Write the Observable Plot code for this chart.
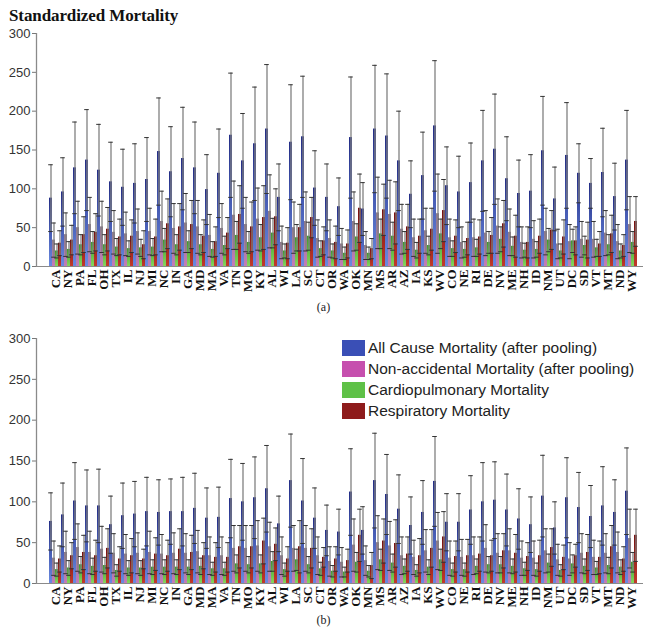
<!DOCTYPE html>
<html>
<head>
<meta charset="utf-8">
<script src="https://cdn.jsdelivr.net/npm/d3@7"></script>
<script src="https://cdn.jsdelivr.net/npm/@observablehq/plot@0.6"></script>
<style>
  body { margin: 0; background: #fff; }
  #wrap { position: relative; width: 647px; height: 627px; overflow: hidden; background: #fff; }
  .abs { position: absolute; }
  #title { left: 9px; top: 6px; font: bold 17px "Liberation Serif", "DejaVu Serif", serif; color: #111; letter-spacing: -0.1px; }
  .cap { left: 0; width: 647px; text-align: center; font: 12px "Liberation Serif", serif; color: #222; }
  #legend { left: 342px; top: 337px; font: 15.5px "Liberation Sans", Arial, sans-serif; color: #222; }
  #legend .row { display: flex; align-items: center; height: 21px; }
  #legend .sw { width: 23px; height: 16px; margin-right: 3px; }
</style>
</head>
<body>
<div id="wrap">
  <div id="pa" class="abs" style="left:0;top:0"></div>
  <div id="pb" class="abs" style="left:0;top:310px"></div>
  <div id="title" class="abs">Standardized Mortality</div>
  <div class="abs cap" style="top:300px">(a)</div>
  <div class="abs cap" style="top:613px">(b)</div>
  <div id="legend" class="abs"></div>
</div>
<script>
// ---------------- data ----------------
const states = ["CA","NY","PA","FL","OH","TX","IL","NJ","MI","NC","IN","GA","MD","MA","VA","TN","MO","KY","AL","WI","LA","SC","CT","OR","WA","OK","MN","MS","AR","AZ","IA","KS","WV","CO","NE","RI","DE","NV","ME","NH","ID","NM","UT","DC","SD","VT","MT","ND","WY"];
const seriesNames = ["All Cause Mortality (after pooling)", "Non-accidental Mortality (after pooling)", "Cardiopulmonary Mortality", "Respiratory Mortality"];
const yTicks = [0, 50, 100, 150, 200, 250, 300];

// Panel (a)
const aAll     = [88,96,127,137,124,109,102,107,112,148,122,139,127,99,120,169,136,158,177,89,160,167,101,89,77,166,74,177,168,136,93,117,181,104,96,108,136,151,113,94,97,149,87,143,120,107,121,90,137];
const aAllErr  = [43,44,59,65,59,51,49,51,54,69,58,66,59,45,57,80,61,73,83,43,74,78,48,43,37,78,34,82,80,64,43,56,84,50,46,51,65,71,54,43,47,70,41,68,38,32,57,43,64];
const aNon     = [34,41,50,54,51,44,42,45,45,58,49,56,51,40,49,66,54,61,71,31,50,58,36,36,29,58,27,69,67,48,37,46,68,37,31,37,43,52,44,31,35,45,29,32,35,35,43,32,54];
const aNonErr  = [22,28,34,35,33,28,28,29,30,39,32,38,34,27,32,44,35,40,47,21,33,38,24,24,20,38,18,46,44,32,24,29,51,24,20,24,29,35,30,20,24,30,19,22,23,23,29,22,36];
const aCard    = [20,22,28,31,28,25,23,24,25,34,28,32,28,22,27,40,31,37,43,20,37,39,23,20,17,38,17,42,39,31,21,27,42,23,22,24,31,35,26,21,22,34,20,33,27,24,28,20,31];
const aCardErr = [9,10,13,14,13,11,10,11,11,15,13,14,13,10,12,18,14,17,19,9,17,18,10,9,8,17,8,19,18,14,10,12,19,10,10,11,14,16,12,9,10,15,9,15,12,11,13,9,14];
const aResp    = [30,34,41,44,48,38,39,28,38,55,51,54,39,32,43,67,51,63,64,30,50,63,33,31,29,75,23,73,69,51,39,48,72,39,36,38,40,55,39,31,39,47,38,33,34,29,42,27,58];
const aRespErr = [16,19,23,24,28,23,21,18,23,32,30,31,21,19,20,37,32,41,36,20,30,26,18,21,18,44,13,33,40,29,22,27,40,21,21,22,23,30,27,20,22,25,22,18,23,16,24,14,32];

// Panel (b)
const bAll     = [76,84,101,95,95,72,83,85,88,87,88,88,92,80,81,104,100,105,116,73,126,101,80,65,63,112,65,126,109,91,71,87,125,75,75,90,100,102,90,79,72,107,68,105,93,82,95,87,113];
const bAllErr  = [35,39,47,44,45,35,40,40,42,40,40,42,43,37,37,48,47,50,53,34,57,52,37,31,28,53,29,58,49,42,35,39,55,35,35,42,48,47,44,37,34,50,32,49,43,38,48,40,53];
const bNon     = [31,38,44,38,42,37,36,37,38,36,37,37,39,34,34,43,43,46,45,34,43,43,34,27,26,47,28,50,46,34,32,40,52,31,32,34,43,37,40,31,31,40,29,30,37,32,37,38,55];
const bNonErr  = [21,26,29,26,28,24,24,25,26,24,25,24,26,23,23,28,28,31,30,23,28,28,23,18,18,32,18,33,30,23,21,26,35,21,22,23,29,24,27,21,21,27,19,20,24,21,24,25,36];
const bCard    = [17,19,23,21,22,16,19,19,20,20,20,20,21,18,18,24,23,24,27,17,29,23,18,15,14,26,15,29,25,21,16,20,29,17,17,21,23,23,21,18,17,25,16,24,21,19,22,20,26];
const bCardErr = [8,9,10,10,10,7,9,9,9,9,9,9,10,8,8,11,10,11,12,8,13,10,8,7,6,12,7,13,11,9,7,9,13,8,8,9,10,10,9,8,8,11,7,11,9,8,10,9,12];
const bResp    = [30,34,38,34,43,30,34,30,36,34,42,38,34,32,32,45,45,52,48,30,45,43,32,30,28,59,22,52,49,36,34,43,57,33,34,36,34,40,37,33,34,44,32,34,38,32,45,30,59];
const bRespErr = [16,16,21,19,24,15,21,12,20,19,25,21,16,18,18,26,26,28,20,15,32,24,12,15,14,32,16,27,29,21,21,23,31,19,20,21,19,21,23,17,19,23,15,14,22,20,26,15,32];

// ---------------- drawing ----------------
const keys = ["A","N","C","R"];
const gradStops = {
  A: ["#232d86", "#6a8ae0"],
  N: ["#8c7a8c", "#c47cb8"],
  C: ["#3b9a2b", "#86d65f"],
  R: ["#761010", "#c23a2b"]
};
const swatch = ["#3a4fb6", "#c64fae", "#5fc147", "#8e1b1b"];

function rowsFor(sets) {
  return states.flatMap((s, i) => keys.map((k, j) => ({
    state: s, series: k, key: s + "|" + k,
    value: sets[j][0][i], err: sets[j][1][i]
  })));
}

function panel(sets, opts) {
  const rows = rowsFor(sets);
  const domain = rows.map(d => d.key);
  const x0 = 42.5, x1 = 643;
  const pad = 0.06;
  const step = (x1 - x0) / (domain.length - pad + 2 * pad);
  const pid = opts.id;
  const chart = Plot.plot({
    width: 647,
    height: opts.height,
    marginTop: opts.marginTop,
    marginBottom: opts.marginBottom,
    marginLeft: 36,
    marginRight: 4,
    style: {background: "transparent", overflow: "visible"},
    x: {domain, range: [x0, x1], padding: pad, axis: null},
    y: {domain: [0, 300], axis: null},
    marks: [
      ...keys.map(k => Plot.barY(rows.filter(d => d.series === k), {
        x: "key", y: "value", fill: `url(#${pid}-${k})`
      })),
      Plot.ruleX(rows, {x: "key", y1: d => d.value - d.err, y2: d => d.value + d.err, stroke: "#808080", strokeWidth: 1.3}),
      Plot.tickY(rows, {x: "key", y: d => d.value + d.err, stroke: "#333", strokeWidth: 1, insetLeft: -0.8, insetRight: -0.8}),
      Plot.tickY(rows, {x: "key", y: d => d.value - d.err, stroke: "#333", strokeWidth: 1, insetLeft: -0.8, insetRight: -0.8}),
      Plot.ruleY([0], {stroke: "#8a8a8a", strokeWidth: 1.2}),
      Plot.axisY({ticks: yTicks, label: null, tickSize: 4, tickPadding: 2, fontSize: 13, fontFamily: "Liberation Sans, Arial, sans-serif", stroke: "#777", fill: "#333"}),
      Plot.axisX({
        ticks: states.map(s => s + "|N"),
        tickFormat: k => k.split("|")[0],
        label: null,
        tickRotate: -90, tickSize: 0, tickPadding: 3,
        dx: step / 2,
        fontSize: 13, fontWeight: "bold",
        fontFamily: "Liberation Serif, Times New Roman, serif",
        fill: "#111"
      })
    ]
  });
  const svg = d3.select(chart);
  const defs = svg.insert("defs", ":first-child");
  for (const k of keys) {
    const g = defs.append("linearGradient").attr("id", `${pid}-${k}`)
      .attr("x1", 0).attr("y1", 0).attr("x2", 0).attr("y2", 1);
    g.append("stop").attr("offset", "0%").attr("stop-color", gradStops[k][0]);
    g.append("stop").attr("offset", "100%").attr("stop-color", gradStops[k][1]);
  }
  const y = chart.scale("y");
  svg.append("line")
    .attr("x1", 36.5).attr("x2", 36.5)
    .attr("y1", y.apply(300)).attr("y2", y.apply(0))
    .attr("stroke", "#8a8a8a").attr("stroke-width", 1.3);
  return chart;
}

document.getElementById("pa").appendChild(panel(
  [[aAll, aAllErr], [aNon, aNonErr], [aCard, aCardErr], [aResp, aRespErr]],
  {id: "ga", height: 300, marginTop: 33, marginBottom: 34}
));
document.getElementById("pb").appendChild(panel(
  [[bAll, bAllErr], [bNon, bNonErr], [bCard, bCardErr], [bResp, bRespErr]],
  {id: "gb", height: 308, marginTop: 28, marginBottom: 35}
));

const legend = document.getElementById("legend");
seriesNames.forEach((name, i) => {
  const row = document.createElement("div");
  row.className = "row";
  const sw = document.createElement("div");
  sw.className = "sw";
  sw.style.background = swatch[i];
  const t = document.createElement("span");
  t.textContent = name;
  row.appendChild(sw); row.appendChild(t);
  legend.appendChild(row);
});
</script>
</body>
</html>
